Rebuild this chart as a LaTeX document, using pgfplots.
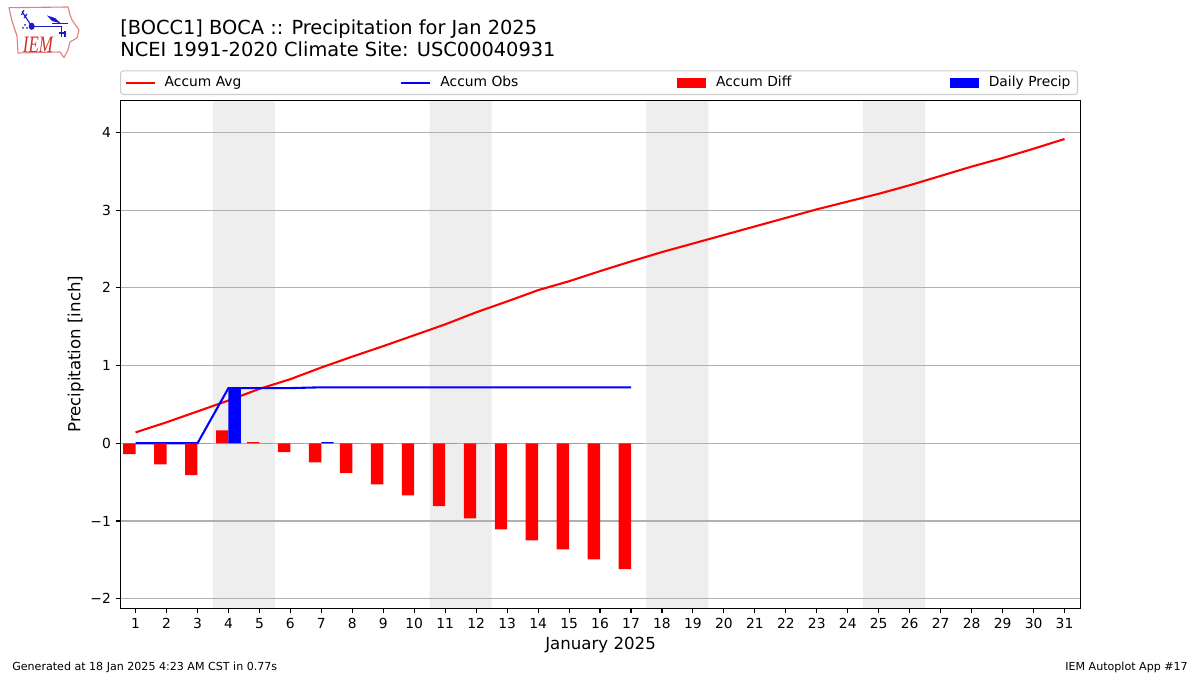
\documentclass[border=0pt]{standalone}
\usepackage{pgfplots}
\usepackage{fontspec}
\setmainfont{DejaVu Sans}
\newfontfamily\logofont{Liberation Serif}
\pgfplotsset{compat=1.18}
\definecolor{shade}{HTML}{EEEEEE}
\definecolor{gridc}{HTML}{B0B0B0}
\definecolor{legc}{HTML}{CCCCCC}
\definecolor{logored}{HTML}{E08080}
\definecolor{logotext}{HTML}{D03030}
\definecolor{logoblue}{HTML}{1A1ACC}
\pgfplotsset{
  layers/chartlayers/.define layer set={axis background,shade,axis grid,main,axis ticks,axis lines,axis tick labels,axis descriptions,axis foreground}{},
  set layers=chartlayers,
}
\newcommand{\fs}[1]{\fontsize{#1}{#1}\selectfont}
\begin{document}
\begin{tikzpicture}
\begin{scope}[x=0.01in,y=-0.01in]
\useasboundingbox (0,0) rectangle (1200,675);
% logo
\draw[logored,line width=0.8bp,line join=round]
  (9,7.7)--(68,7)--(70,15)--(72,20)--(79,30)--(77,38)--(70,42)--(68,50)--(64,57.5)--(60,52)--(18,53)--(17,36)--(12,21)--cycle;
\draw[logoblue,line width=1bp] (31.7,26.3)--(61.7,26.3)--(61.7,37);
\draw[logoblue,line width=0.8bp] (31.7,26.3)--(22,11.5) (21.5,15)--(24,10) (24,18)--(27,14);
\fill[logoblue] (31.7,26.3) ellipse (3 and 3.6);
\fill[logoblue] (47,15.5)--(55,18)--(61,23.5)--(52,21)--cycle;
\draw[logoblue,line width=0.8bp] (52,23.7)--(68,23.7);
\draw[logoblue,line width=0.8bp] (59,33)--(65,33) (65,31)--(65,37);
\fill[logoblue] (23,28) circle (1) (27,28) circle (1) (25,25) circle (1);
\node[logotext,font=\logofont\itshape\fs{17},anchor=center,inner sep=0pt,xscale=0.72] at (38,45) {IEM};
% titles
\node[anchor=base west,inner sep=0pt,font=\fs{14}] at (120,35) {[BOCC1] BOCA :: Precipitation for Jan 2025};
\node[anchor=base west,inner sep=0pt,font=\fs{14}] at (120,57) {NCEI 1991-2020 Climate Site: USC00040931};
\node[anchor=base west,inner sep=0pt,font=\fs{8}] at (12,670) {Generated at 18 Jan 2025 4:23 AM CST in 0.77s};
\node[anchor=base east,inner sep=0pt,font=\fs{8}] at (1188,670) {IEM Autoplot App \#17};
\end{scope}
\begin{axis}[
  at={(1.205in,-6.08in)},anchor=south west,
  scale only axis,width=9.595in,height=5.08in,
  xmin=0.516,xmax=31.52,ymin=-2.124,ymax=4.416,
  axis line style={black,line width=0.8bp},
  tick style={black,line width=0.8bp},
  tick align=outside,major tick length=3.5bp,
  xtick pos=lower,ytick pos=left,
  xtick={1,...,31},
  ytick={-2,-1,0,1,2,3,4},
  yticklabels={−2,−1,0,1,2,3,4},
  ymajorgrids=true,
  grid style={gridc,line width=0.8bp},
  tick label style={font=\fs{10}},
  /pgf/number format/assume math mode=true,
  xlabel={January 2025},ylabel={Precipitation [inch]},
  label style={font=\fs{12}},
  xlabel style={at={(axis description cs:0.5,0)},anchor=base,yshift=-29.5bp},
  ylabel style={at={(axis description cs:0,0.5)},anchor=base,yshift=29bp},
  legend columns=4,
  legend cell align=left,
  legend style={at={(-0.0005,1.0098)},anchor=south west,draw=legc,line width=0.8bp,font=\fs{10},rounded corners=2bp},
]
\addplot[on layer=shade,fill=shade,draw=none,forget plot] coordinates {(3.5,-2.124)(5.5,-2.124)(5.5,4.416)(3.5,4.416)(3.5,-2.124)};
\addplot[on layer=shade,fill=shade,draw=none,forget plot] coordinates {(10.5,-2.124)(12.5,-2.124)(12.5,4.416)(10.5,4.416)(10.5,-2.124)};
\addplot[on layer=shade,fill=shade,draw=none,forget plot] coordinates {(17.5,-2.124)(19.5,-2.124)(19.5,4.416)(17.5,4.416)(17.5,-2.124)};
\addplot[on layer=shade,fill=shade,draw=none,forget plot] coordinates {(24.5,-2.124)(26.5,-2.124)(26.5,4.416)(24.5,4.416)(24.5,-2.124)};
% Accum Avg
\addplot[red,line width=1.5bp,
  legend image code/.code={\draw[red,line width=1.5bp,sharp corners] (0,0)--(0.29in,0);}] coordinates {
 (1,0.14)(2,0.27)(3,0.41)(4,0.55)(5,0.70)(6,0.825)(7,0.975)(8,1.115)(9,1.25)(10,1.39)
 (11,1.53)(12,1.685)(13,1.825)(14,1.97)(15,2.085)(16,2.215)(17,2.34)(18,2.46)(19,2.57)(20,2.68)
 (21,2.79)(22,2.90)(23,3.01)(24,3.11)(25,3.21)(26,3.32)(27,3.44)(28,3.56)(29,3.67)(30,3.79)(31,3.915)};
\addlegendentry{\makebox[2.38in][l]{\hspace*{0.06in}Accum Avg}}
% Accum Obs
\addplot[blue,line width=1.5bp,
  legend image code/.code={\draw[blue,line width=1.5bp,sharp corners] (0,0)--(0.29in,0);}] coordinates {
 (1,0)(2,0)(3,0)(4,0.71)(5,0.71)(6,0.71)(7,0.72)(8,0.72)(9,0.72)(10,0.72)
 (11,0.72)(12,0.72)(13,0.72)(14,0.72)(15,0.72)(16,0.72)(17,0.72)};
\addlegendentry{\makebox[2.41in][l]{\hspace*{0.07in}Accum Obs}}
% Accum Diff
\addplot[ybar,bar width=0.4,bar shift=-0.2,fill=red,draw=none,
  legend image code/.code={\fill[red,sharp corners] (0,-0.05in) rectangle (0.29in,0.05in);}] coordinates {
 (1,-0.14)(2,-0.27)(3,-0.41)(4,0.165)(5,0.015)(6,-0.115)(7,-0.245)(8,-0.385)(9,-0.53)(10,-0.67)
 (11,-0.81)(12,-0.965)(13,-1.107)(14,-1.25)(15,-1.365)(16,-1.495)(17,-1.62)};
\addlegendentry{\makebox[2.38in][l]{\hspace*{0.07in}Accum Diff}}
% Daily Precip
\addplot[ybar,bar width=0.4,bar shift=0.2,fill=blue,draw=none,
  legend image code/.code={\fill[blue,sharp corners] (0,-0.05in) rectangle (0.29in,0.05in);}] coordinates {
 (1,0)(2,0)(3,0)(4,0.71)(5,0)(6,0)(7,0.015)(8,0)(9,0)(10,0)
 (11,0)(12,0)(13,0)(14,0)(15,0)(16,0)(17,0)};
\addlegendentry{\hspace*{0.07in}Daily Precip}
\end{axis}
\end{tikzpicture}
\end{document}
